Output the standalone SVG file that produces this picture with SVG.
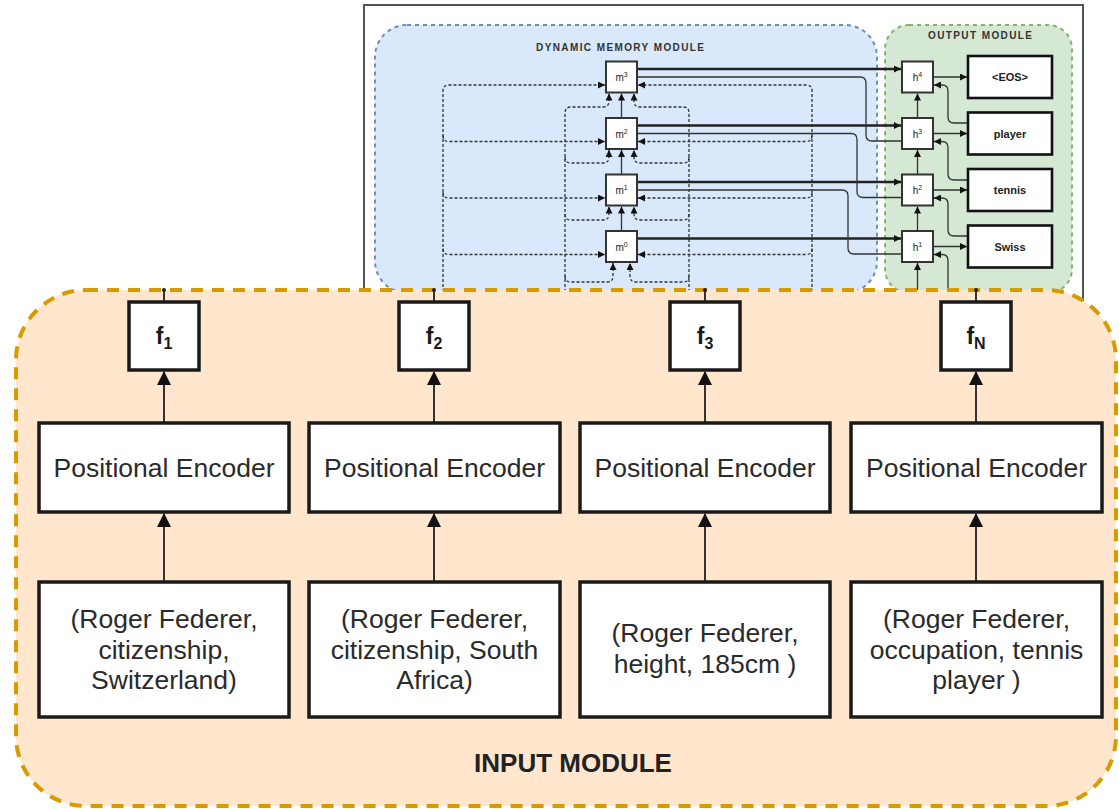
<svg xmlns="http://www.w3.org/2000/svg" width="1119" height="809" viewBox="0 0 1119 809">
<defs>
<marker id="arr" markerUnits="userSpaceOnUse" markerWidth="14" markerHeight="14" refX="13" refY="7" orient="auto"><path d="M0,0 L14,7 L0,14 z" fill="#111"/></marker>
<marker id="sa" markerUnits="userSpaceOnUse" markerWidth="7" markerHeight="7" refX="7" refY="3.5" orient="auto"><path d="M0,0 L7,3.5 L0,7 z" fill="#111"/></marker>
<style>
text{font-family:"Liberation Sans",Arial,Helvetica,sans-serif}
.box{fill:#fff;stroke:#1a1a1a;stroke-width:3.5}
.lab{font-size:26.5px;fill:#2a2a2a;text-anchor:middle}
.conn{stroke:#333;stroke-width:2;fill:none}
.ib{fill:#fff;stroke:#333;stroke-width:2}
.ob{fill:#fff;stroke:#111;stroke-width:2.6}
.thick{stroke:#222;stroke-width:2.6;fill:none}
.thin{stroke:#333;stroke-width:1.3;fill:none}
.dash{stroke:#333;stroke-width:1.3;fill:none;stroke-dasharray:3 2}
.il{font-size:10px;fill:#222;text-anchor:middle}
.sup{font-size:7px}
.ol{font-size:11px;font-weight:bold;fill:#222;text-anchor:middle}
.fl{font-size:23px;font-weight:bold;fill:#1a1a1a}
.fs{font-size:16px;font-weight:bold}
</style>
</defs>

<g id="inset-frame">
<rect x="364" y="5" width="719" height="310" fill="#fff" stroke="#555" stroke-width="2"/>
<rect id="dynamic-memory-region" x="375" y="25" width="502" height="268" rx="32" fill="#dae8fc" stroke="#6c8ebf" stroke-width="2" stroke-dasharray="4 4"/>
<rect id="output-region" x="885" y="25" width="187" height="268" rx="24" fill="#d5e8d4" stroke="#82b366" stroke-width="2" stroke-dasharray="4 4"/>
<text x="620" y="51" font-size="10" font-weight="bold" fill="#333" text-anchor="middle" textLength="168">DYNAMIC MEMORY MODULE</text>
<text x="980" y="39" font-size="10" font-weight="bold" fill="#333" text-anchor="middle" textLength="104">OUTPUT MODULE</text>
</g>

<g id="inset-connectors">
<!-- left dashed bus -->
<path class="dash" d="M443 292 V91 Q443 85 449 85 H605" marker-end="url(#sa)"/>
<path class="dash" d="M443 135.5 Q443 141.5 449 141.5 H605" marker-end="url(#sa)"/>
<path class="dash" d="M443 192 Q443 198 449 198 H605" marker-end="url(#sa)"/>
<path class="dash" d="M443 248.5 Q443 254.5 449 254.5 H605" marker-end="url(#sa)"/>
<!-- right dashed bus -->
<path class="dash" d="M812 292 V91 Q812 85 806 85 H638" marker-end="url(#sa)"/>
<path class="dash" d="M812 135.5 Q812 141.5 806 141.5 H638" marker-end="url(#sa)"/>
<path class="dash" d="M812 192 Q812 198 806 198 H638" marker-end="url(#sa)"/>
<path class="dash" d="M812 248.5 Q812 254.5 806 254.5 H638" marker-end="url(#sa)"/>
<!-- bottom dashed branches -->
<path class="dash" d="M565 292 V113 Q565 107 571 107 H603 Q609 107 609 101 V93.5" marker-end="url(#sa)"/>
<path class="dash" d="M689 292 V113 Q689 107 683 107 H640 Q634 107 634 101 V93.5" marker-end="url(#sa)"/>
<path class="dash" d="M565 157 Q565 163 571 163 H603 Q609 163 609 157 V150" marker-end="url(#sa)"/>
<path class="dash" d="M689 157 Q689 163 683 163 H640 Q634 163 634 157 V150" marker-end="url(#sa)"/>
<path class="dash" d="M565 214 Q565 220 571 220 H603 Q609 220 609 214 V206.5" marker-end="url(#sa)"/>
<path class="dash" d="M689 214 Q689 220 683 220 H640 Q634 220 634 214 V206.5" marker-end="url(#sa)"/>
<path class="dash" d="M565 276 Q565 282 571 282 H607 Q613 282 613 276 V263" marker-end="url(#sa)"/>
<path class="dash" d="M689 276 Q689 282 683 282 H636 Q630 282 630 276 V263" marker-end="url(#sa)"/>
<!-- memory chain -->
<path class="thin" d="M621.5 118 V93.5" marker-end="url(#sa)"/>
<path class="thin" d="M621.5 174.5 V150" marker-end="url(#sa)"/>
<path class="thin" d="M621.5 231 V206.5" marker-end="url(#sa)"/>
<!-- memory to output: thick -->
<path class="thick" d="M637 69 H901" marker-end="url(#sa)"/>
<path class="thick" d="M637 125.5 H901" marker-end="url(#sa)"/>
<path class="thick" d="M637 182 H901" marker-end="url(#sa)"/>
<path class="thick" d="M637 238.5 H901" marker-end="url(#sa)"/>
<!-- memory to output: thin -->
<path class="thin" d="M637 77 H860 Q866 77 866 83 V135 Q866 141 872 141 H902"/>
<path class="thin" d="M637 133.5 H851 Q857 133.5 857 139.5 V191.5 Q857 197.5 863 197.5 H902"/>
<path class="thin" d="M637 190 H842 Q848 190 848 196 V248 Q848 254 854 254 H902"/>
<!-- h chain -->
<path class="thin" d="M917.5 118 V93.5" marker-end="url(#sa)"/>
<path class="thin" d="M917.5 174.5 V150" marker-end="url(#sa)"/>
<path class="thin" d="M917.5 231 V206.5" marker-end="url(#sa)"/>
<path class="thin" d="M917.5 292 V263" marker-end="url(#sa)"/>
<!-- h to words -->
<path class="thin" d="M933 77 H967" marker-end="url(#sa)"/>
<path class="thin" d="M933 133.5 H967" marker-end="url(#sa)"/>
<path class="thin" d="M933 190 H967" marker-end="url(#sa)"/>
<path class="thin" d="M933 246.5 H967" marker-end="url(#sa)"/>
<!-- word feedback -->
<path class="thin" d="M968 123 H954 Q948 123 948 117 V91 Q948 85 942 85 H934" marker-end="url(#sa)"/>
<path class="thin" d="M968 180 H954 Q948 180 948 174 V147.5 Q948 141.5 942 141.5 H934" marker-end="url(#sa)"/>
<path class="thin" d="M968 236 H954 Q948 236 948 230 V204 Q948 198 942 198 H934" marker-end="url(#sa)"/>
<path class="thin" d="M948 292 V260.5 Q948 254.5 942 254.5 H934" marker-end="url(#sa)"/>
</g>

<g id="m3"><rect class="ib" x="606" y="61.5" width="31" height="31"/><text class="il" x="621.5" y="81">m<tspan class="sup" dy="-4">3</tspan></text></g>
<g id="m2"><rect class="ib" x="606" y="118" width="31" height="31"/><text class="il" x="621.5" y="137.5">m<tspan class="sup" dy="-4">2</tspan></text></g>
<g id="m1"><rect class="ib" x="606" y="174.5" width="31" height="31"/><text class="il" x="621.5" y="194">m<tspan class="sup" dy="-4">1</tspan></text></g>
<g id="m0"><rect class="ib" x="606" y="231" width="31" height="31"/><text class="il" x="621.5" y="250.5">m<tspan class="sup" dy="-4">0</tspan></text></g>

<g id="h4"><rect class="ib" x="902" y="61.5" width="31" height="31"/><text class="il" x="917.5" y="81">h<tspan class="sup" dy="-4">4</tspan></text></g>
<g id="h3"><rect class="ib" x="902" y="118" width="31" height="31"/><text class="il" x="917.5" y="137.5">h<tspan class="sup" dy="-4">3</tspan></text></g>
<g id="h2"><rect class="ib" x="902" y="174.5" width="31" height="31"/><text class="il" x="917.5" y="194">h<tspan class="sup" dy="-4">2</tspan></text></g>
<g id="h1"><rect class="ib" x="902" y="231" width="31" height="31"/><text class="il" x="917.5" y="250.5">h<tspan class="sup" dy="-4">1</tspan></text></g>

<g id="out-eos"><rect class="ob" x="968" y="56" width="84" height="42"/><text class="ol" x="1010" y="81">&lt;EOS&gt;</text></g>
<g id="out-player"><rect class="ob" x="968" y="112.5" width="84" height="42"/><text class="ol" x="1010" y="137.5">player</text></g>
<g id="out-tennis"><rect class="ob" x="968" y="169" width="84" height="42"/><text class="ol" x="1010" y="194">tennis</text></g>
<g id="out-swiss"><rect class="ob" x="968" y="225.5" width="84" height="42"/><text class="ol" x="1010" y="250.5">Swiss</text></g>

<g id="input-module">
<rect x="16" y="290" width="1100" height="516" rx="70" fill="#ffe6cc" stroke="#d79b00" stroke-width="4" stroke-dasharray="12 9"/>
<text x="573" y="772" font-size="26" font-weight="bold" fill="#222" text-anchor="middle">INPUT MODULE</text>
</g>

<g id="connectors">
<path class="conn" d="M164 302 V290"/><circle cx="164" cy="290" r="2" fill="#222"/>
<path class="conn" d="M434 302 V290"/><circle cx="434" cy="290" r="2" fill="#222"/>
<path class="conn" d="M705 302 V290"/><circle cx="705" cy="290" r="2" fill="#222"/>
<path class="conn" d="M976 302 V290"/><circle cx="976" cy="290" r="2" fill="#222"/>
<path class="conn" d="M164 423 V372" marker-end="url(#arr)"/>
<path class="conn" d="M434 423 V372" marker-end="url(#arr)"/>
<path class="conn" d="M705 423 V372" marker-end="url(#arr)"/>
<path class="conn" d="M976 423 V372" marker-end="url(#arr)"/>
<path class="conn" d="M164 582 V514" marker-end="url(#arr)"/>
<path class="conn" d="M434 582 V514" marker-end="url(#arr)"/>
<path class="conn" d="M705 582 V514" marker-end="url(#arr)"/>
<path class="conn" d="M976 582 V514" marker-end="url(#arr)"/>
</g>

<g id="f1"><rect class="box" x="129" y="302" width="70" height="68"/><text class="fl" x="164" y="344" text-anchor="middle">f<tspan class="fs" dy="5">1</tspan></text></g>
<g id="f2"><rect class="box" x="399" y="302" width="70" height="68"/><text class="fl" x="434" y="344" text-anchor="middle">f<tspan class="fs" dy="5">2</tspan></text></g>
<g id="f3"><rect class="box" x="670" y="302" width="70" height="68"/><text class="fl" x="705" y="344" text-anchor="middle">f<tspan class="fs" dy="5">3</tspan></text></g>
<g id="fN"><rect class="box" x="941" y="302" width="70" height="68"/><text class="fl" x="976" y="344" text-anchor="middle">f<tspan class="fs" dy="5">N</tspan></text></g>

<g id="pe1"><rect class="box" x="39" y="423" width="250" height="89"/><text class="lab" x="164" y="477">Positional Encoder</text></g>
<g id="pe2"><rect class="box" x="309" y="423" width="251" height="89"/><text class="lab" x="434.5" y="477">Positional Encoder</text></g>
<g id="pe3"><rect class="box" x="580" y="423" width="250" height="89"/><text class="lab" x="705" y="477">Positional Encoder</text></g>
<g id="pe4"><rect class="box" x="851" y="423" width="251" height="89"/><text class="lab" x="976.5" y="477">Positional Encoder</text></g>

<g id="t1"><rect class="box" x="39" y="582" width="250" height="135"/><text class="lab" x="164" y="628">(Roger Federer,<tspan x="164" dy="30.5">citizenship,</tspan><tspan x="164" dy="30.5">Switzerland)</tspan></text></g>
<g id="t2"><rect class="box" x="309" y="582" width="251" height="135"/><text class="lab" x="434.5" y="628">(Roger Federer,<tspan x="434.5" dy="30.5">citizenship, South</tspan><tspan x="434.5" dy="30.5">Africa)</tspan></text></g>
<g id="t3"><rect class="box" x="580" y="582" width="250" height="135"/><text class="lab" x="705" y="642">(Roger Federer,<tspan x="705" dy="30.5">height, 185cm )</tspan></text></g>
<g id="t4"><rect class="box" x="851" y="582" width="251" height="135"/><text class="lab" x="976.5" y="628">(Roger Federer,<tspan x="976.5" dy="30.5">occupation, tennis</tspan><tspan x="976.5" dy="30.5">player )</tspan></text></g>
</svg>
